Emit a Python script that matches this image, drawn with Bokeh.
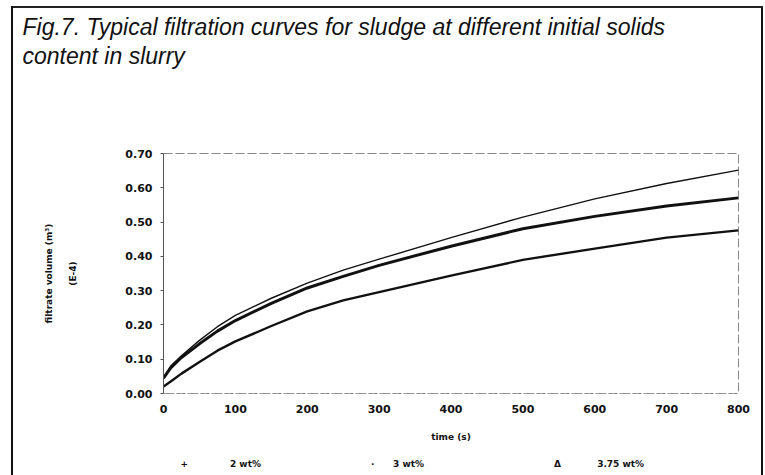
from bokeh.plotting import figure
from bokeh.models import FixedTicker, NumeralTickFormatter, Range1d, Title, LinearAxis
from bokeh.embed import file_html
from bokeh.resources import INLINE

# ---- data ----
time_s = [0, 10, 25, 50, 75, 100, 150, 200, 250, 300, 400, 500, 600, 700, 800]
vol_2wt = [0.045, 0.080, 0.110, 0.155, 0.195, 0.228, 0.278, 0.322, 0.360, 0.392, 0.455, 0.515, 0.568, 0.613, 0.652]
vol_3wt = [0.045, 0.075, 0.105, 0.145, 0.182, 0.213, 0.263, 0.308, 0.342, 0.374, 0.430, 0.481, 0.517, 0.547, 0.571]
vol_375wt = [0.020, 0.035, 0.058, 0.092, 0.125, 0.152, 0.197, 0.240, 0.272, 0.296, 0.344, 0.390, 0.423, 0.455, 0.476]
series_labels = ["2 wt%", "3 wt%", "3.75 wt%"]
series_markers = ["+", "\u00b7", "\u0394"]
x_ticks = [0, 100, 200, 300, 400, 500, 600, 700, 800]
y_ticks = [0.0, 0.1, 0.2, 0.3, 0.4, 0.5, 0.6, 0.7]
title_lines = ["Fig.7. Typical filtration curves for sludge at different initial solids",
               "content in slurry"]
y_label_lines = ["filtrate volume (m\u00b3)", "(E-4)"]
x_label = "time (s)"

# layout of the legend row (horizontal slots along the time axis, layout only)
legend_marker_slots = [29, 291, 548]
legend_text_slots = [114, 341, 636]

BOLD_FONT = "DejaVu Sans"
INK = "#111111"

p = figure(width=765, height=475, output_backend="svg", toolbar_location=None,
           x_range=Range1d(0, 800), y_range=Range1d(0, 0.7005),
           min_border_left=163, min_border_right=27, min_border_top=153, min_border_bottom=82,
           background_fill_color="white", border_fill_color=None)
p.styles = {"box-shadow": ("inset 11px 0 0 white, inset 0 6px 0 white, inset -2px 0 0 white, "
                           "inset 13px 0 0 #111111, inset 0 8px 0 #222222, inset -4px 0 0 #111111"),
            "background-color": "white"}

p.xgrid.visible = False
p.ygrid.visible = False
p.outline_line_color = "#8a8a8a"
p.outline_line_dash = "9 3"
p.outline_line_width = 1

# axes
p.xaxis.ticker = FixedTicker(ticks=x_ticks)
p.yaxis.ticker = FixedTicker(ticks=y_ticks)
p.yaxis.formatter = NumeralTickFormatter(format="0.00")
for ax in (p.xaxis[0], p.yaxis[0]):
    ax.major_label_text_font = BOLD_FONT
    ax.major_label_text_font_style = "bold"
    ax.major_label_text_font_size = "11px"
    ax.major_label_text_color = INK
    ax.axis_label_text_font = BOLD_FONT
    ax.axis_label_text_font_style = "bold"
    ax.axis_label_text_font_size = "9px"
    ax.axis_label_text_color = INK
    ax.minor_tick_line_color = None
    ax.major_tick_in = 0
    ax.major_tick_out = 3
    ax.major_tick_line_color = "#555555"

p.xaxis.axis_line_color = "#9a9a9a"
p.xaxis.axis_line_dash = "3 5"
p.xaxis.major_tick_line_color = None
p.xaxis.major_label_standoff = 8
p.xaxis.axis_label = x_label
p.xaxis.axis_label_standoff = 16

p.yaxis.axis_line_color = "#555555"
p.yaxis.major_label_standoff = 8
p.yaxis.axis_label = y_label_lines[1]
p.yaxis.axis_label_standoff = 44

# first y-label line on its own label-only axis further left
extra = LinearAxis(axis_label=y_label_lines[0], ticker=FixedTicker(ticks=[]),
                   axis_line_color=None, major_tick_line_color=None, minor_tick_line_color=None,
                   major_label_text_font_size="0px", axis_label_standoff=12,
                   axis_label_text_font=BOLD_FONT, axis_label_text_font_style="bold",
                   axis_label_text_font_size="9px", axis_label_text_color=INK)
p.add_layout(extra, "left")

# curves
p.line(time_s, vol_2wt, line_color=INK, line_width=1.4)
p.line(time_s, vol_3wt, line_color=INK, line_width=3.0)
p.line(time_s, vol_375wt, line_color=INK, line_width=2.4)

# legend row, drawn as a label-only axis under the x-axis title
overrides = {}
for m_slot, t_slot, mk, lab in zip(legend_marker_slots, legend_text_slots, series_markers, series_labels):
    overrides[m_slot] = mk
    overrides[t_slot] = lab
legend_axis = LinearAxis(ticker=FixedTicker(ticks=legend_marker_slots + legend_text_slots),
                         major_label_overrides=overrides,
                         axis_line_color=None, major_tick_line_color=None, minor_tick_line_color=None,
                         major_label_standoff=8,
                         major_label_text_font=BOLD_FONT, major_label_text_font_style="bold",
                         major_label_text_font_size="9px", major_label_text_color=INK)
p.add_layout(legend_axis, "below")

# title area: spacer next to the plot, then the two italic title lines
p.add_layout(Title(text=" ", standoff=82, text_font_size="1px"), "above")
p.add_layout(Title(text=title_lines[1], align="left", offset=-141, standoff=0,
                   text_font="Liberation Sans", text_font_style="italic",
                   text_font_size="23px", text_color=INK), "above")
p.add_layout(Title(text=title_lines[0], align="left", offset=-141, standoff=2,
                   text_font="Liberation Sans", text_font_style="italic",
                   text_font_size="23px", text_color=INK), "above")

open("out.html", "w").write(file_html(p, INLINE))
